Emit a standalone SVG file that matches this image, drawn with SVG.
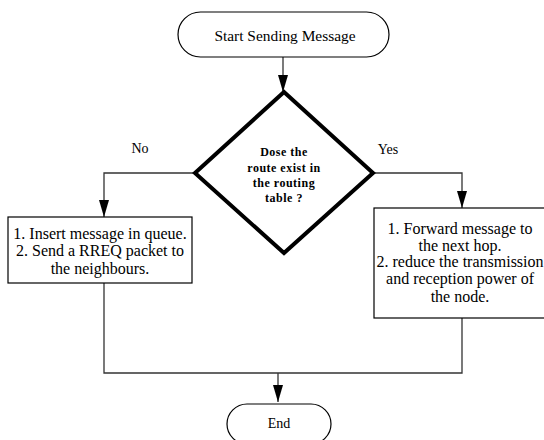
<svg xmlns="http://www.w3.org/2000/svg" width="544" height="440" viewBox="0 0 544 440">
  <style>
    .shape { fill: #ffffff; stroke: #000000; stroke-width: 1.2; }
    .conn { fill: none; stroke: #333333; stroke-width: 1.3; }
    .t { font-family: "Liberation Serif", "Times New Roman", serif; font-size: 16px; fill: #000000; text-anchor: middle; }
    .lbl { font-family: "Liberation Serif", "Times New Roman", serif; font-size: 14px; fill: #000000; text-anchor: middle; }
    .tb { font-family: "Liberation Serif", "Times New Roman", serif; font-size: 12px; font-weight: bold; letter-spacing: 0.5px; fill: #000000; text-anchor: middle; }
  </style>
  <defs>
    <marker id="arrow" viewBox="0 0 17 10" refX="17" refY="5" markerWidth="17" markerHeight="10" markerUnits="userSpaceOnUse" orient="auto">
      <path d="M0,0 L17,5 L0,10 Z" fill="#000000"/>
    </marker>
  </defs>
  <rect width="544" height="440" fill="#ffffff"/>

  <g id="connectors">
    <line class="conn" x1="283" y1="57" x2="283" y2="92" marker-end="url(#arrow)"/>
    <polyline class="conn" points="195,173 104,173 104,217" marker-end="url(#arrow)"/>
    <polyline class="conn" points="373,173 462,173 462,208" marker-end="url(#arrow)"/>
    <polyline class="conn" points="104,283 104,373 462,373 462,318"/>
    <line class="conn" x1="278" y1="373" x2="278" y2="402" marker-end="url(#arrow)"/>
    <text class="lbl" x="140" y="153">No</text>
    <text class="lbl" x="388" y="154">Yes</text>
  </g>

  <g id="start">
    <rect class="shape" x="178" y="12" width="211" height="45" rx="22.5" ry="22.5"/>
    <text class="lbl" x="285" y="41" style="font-size:15.4px">Start Sending Message</text>
  </g>

  <g id="decision">
    <polygon points="284,92 373,173 284,253 195,173" fill="#ffffff" stroke="#000000" stroke-width="4" stroke-linejoin="miter"/>
    <text class="tb" x="284" y="156">Dose the</text>
    <text class="tb" x="284" y="171.5">route exist in</text>
    <text class="tb" x="284" y="186.5">the routing</text>
    <text class="tb" x="284" y="201.5">table ?</text>
  </g>

  <g id="noBox">
    <rect class="shape" x="8" y="217" width="184" height="66"/>
    <text class="t" x="100" y="239">1. Insert message in queue.</text>
    <text class="t" x="100" y="256">2. Send a RREQ packet to</text>
    <text class="t" x="100" y="274">the neighbours.</text>
  </g>

  <g id="yesBox">
    <rect class="shape" x="374" y="208" width="180" height="110"/>
    <text class="t" x="460" y="234">1. Forward message to</text>
    <text class="t" x="460" y="251">the next hop.</text>
    <text class="t" x="460" y="267">2. reduce the transmission</text>
    <text class="t" x="460" y="284">and reception power of</text>
    <text class="t" x="460" y="302">the node.</text>
  </g>

  <g id="end">
    <rect class="shape" x="227" y="404" width="104" height="40" rx="20" ry="20"/>
    <text class="lbl" x="279" y="428">End</text>
  </g>
</svg>
